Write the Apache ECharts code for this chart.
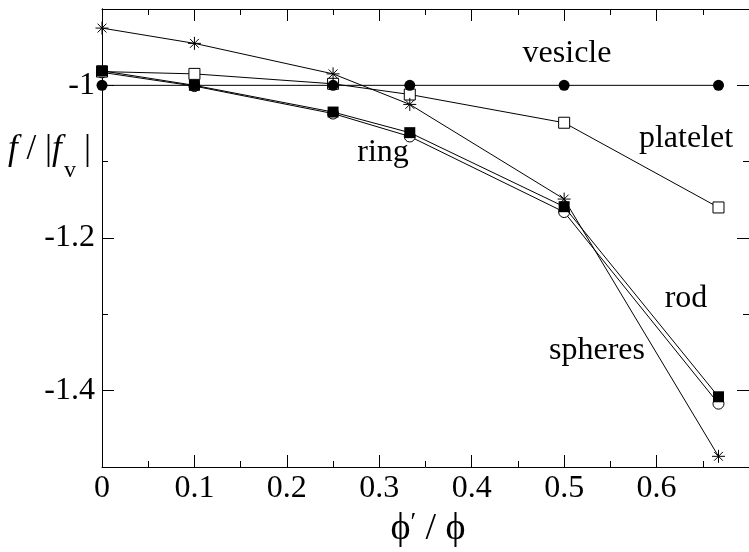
<!DOCTYPE html>
<html>
<head>
<meta charset="utf-8">
<script src="https://cdn.jsdelivr.net/npm/echarts@6/dist/echarts.min.js"></script>
<style>
  html, body { margin: 0; padding: 0; background: #fff; }
  #chart { width: 749px; height: 552px; }
</style>
</head>
<body>
<div id="chart"></div>
<script>
// Volume fraction ratio phi'/phi for each measured configuration
const xValues = [0, 0.1, 0.25, 0.333, 0.5, 0.667];

// Reduced free energy f / |f_v| per shape
const vesicle  = [-1.000, -1.000, -1.000, -1.000, -1.000, -1.000];
const platelet = [-0.982, -0.985, -0.998, -1.012, -1.049, -1.160];
const spheres  = [-0.925, -0.945, -0.985, -1.025, -1.149, -1.486];
const rod      = [-0.981, -1.000, -1.035, -1.062, -1.159, -1.408];
const ring     = [-0.983, -1.001, -1.037, -1.067, -1.166, -1.417];

// Axis ticks
const yMajorTicks = [-1.4, -1.2, -1.0];
const yMinorTicks = [-1.5, -1.3, -1.1, -0.9];

const FONT = '"Liberation Serif", "Times New Roman", serif';
const INK = '#000';

const pairs = arr => xValues.map((x, i) => [x, arr[i]]);

const asterisk = 'path://M5,0L5,10M0,5L10,5M1.6,1.6L8.4,8.4M1.6,8.4L8.4,1.6';

function lineSeries(name, arr, symbol, size, itemStyle, z) {
  return {
    name, type: 'line', data: pairs(arr),
    xAxisIndex: 0, yAxisIndex: 0,
    symbol, symbolSize: size, showAllSymbol: true,
    lineStyle: { color: INK, width: 1 },
    itemStyle, z,
    emphasis: { disabled: true },
    animation: false
  };
}

const baseX = {
  type: 'value', min: 0, max: 0.7, interval: 0.1,
  splitLine: { show: false },
  axisLine: { show: true, lineStyle: { color: INK, width: 1 } },
  axisTick: { show: true, inside: true, length: 12, lineStyle: { color: INK } },
  minorTick: { show: true, splitNumber: 2, length: 6, lineStyle: { color: INK } }
};

function yAxisDef(position, ticks, len, labels) {
  return {
    type: 'value', min: -1.5, max: -0.9, position,
    splitLine: { show: false },
    axisLine: { show: true, onZero: false, lineStyle: { color: INK, width: 1 } },
    axisTick: { show: true, inside: true, length: len, customValues: ticks, lineStyle: { color: INK } },
    axisLabel: labels ? {
      show: true, customValues: yMajorTicks, margin: 7,
      fontFamily: FONT, fontSize: 32, color: INK,
      formatter: v => (Math.abs(v + 1) < 1e-9 ? '-1' : String(+v.toFixed(1)))
    } : { show: false }
  };
}

const chart = echarts.init(document.getElementById('chart'), null, { renderer: 'canvas' });

chart.setOption({
  backgroundColor: '#fff',
  animation: false,
  grid: { left: 102, top: 9, right: -6, bottom: 85 },
  xAxis: [
    Object.assign({}, baseX, {
      position: 'bottom',
      axisLabel: {
        show: true, margin: 6, showMaxLabel: false,
        fontFamily: FONT, fontSize: 32, color: INK,
        formatter: v => (v === 0 ? '0' : String(+v.toFixed(1)))
      }
    }),
    Object.assign({}, baseX, { position: 'top', axisLabel: { show: false } })
  ],
  yAxis: [
    yAxisDef('left', yMajorTicks, 12, true),
    yAxisDef('left', yMinorTicks, 6, false),
    yAxisDef('right', yMajorTicks, 12, false),
    yAxisDef('right', yMinorTicks, 6, false)
  ],
  series: [
    lineSeries('ring', ring, 'circle', 11, { color: '#fff', borderColor: INK, borderWidth: 1 }, 2),
    lineSeries('platelet', platelet, 'rect', 11, { color: '#fff', borderColor: INK, borderWidth: 1 }, 3),
    lineSeries('spheres', spheres, asterisk, 13, { color: INK, borderColor: INK, borderWidth: 1 }, 4),
    lineSeries('vesicle', vesicle, 'circle', 11, { color: INK, borderColor: INK, borderWidth: 0 }, 5),
    lineSeries('rod', rod, 'rect', 11, { color: INK, borderColor: INK, borderWidth: 0 }, 6)
  ],
  graphic: [
    // curve annotations
    { type: 'text', x: 567, y: 54, style: { text: 'vesicle', font: '32px ' + FONT, fill: INK, align: 'center', verticalAlign: 'middle' } },
    { type: 'text', x: 686, y: 139, style: { text: 'platelet', font: '32px ' + FONT, fill: INK, align: 'center', verticalAlign: 'middle' } },
    { type: 'text', x: 383, y: 153, style: { text: 'ring', font: '32px ' + FONT, fill: INK, align: 'center', verticalAlign: 'middle' } },
    { type: 'text', x: 686, y: 299, style: { text: 'rod', font: '32px ' + FONT, fill: INK, align: 'center', verticalAlign: 'middle' } },
    { type: 'text', x: 597, y: 351, style: { text: 'spheres', font: '32px ' + FONT, fill: INK, align: 'center', verticalAlign: 'middle' } },
    // y axis title: f / |f_v|
    { type: 'text', x: 8, y: 150, style: {
        text: '{i|f} / |{i|f}', fill: INK, align: 'left', verticalAlign: 'middle',
        font: '35px ' + FONT,
        rich: { i: { fontStyle: 'italic', fontFamily: FONT, fontSize: 35, fill: INK } }
      } },
    { type: 'text', x: 64, y: 171, style: { text: 'v', font: '24px ' + FONT, fill: INK, align: 'left', verticalAlign: 'middle' } },
    { type: 'text', x: 84, y: 150, style: { text: '|', font: '35px ' + FONT, fill: INK, align: 'left', verticalAlign: 'middle' } },
    // x axis title: phi' / phi
    { type: 'text', x: 428, y: 529, style: {
        text: '{p|\u03D5}{s|\u2032} / {p|\u03D5}', fill: INK, align: 'center', verticalAlign: 'middle',
        font: '38px ' + FONT,
        rich: {
          p: { fontFamily: FONT, fontSize: 38, fill: INK },
          s: { fontFamily: FONT, fontSize: 26, fill: INK, verticalAlign: 'top' }
        }
      } }
  ]
});
</script>
</body>
</html>
